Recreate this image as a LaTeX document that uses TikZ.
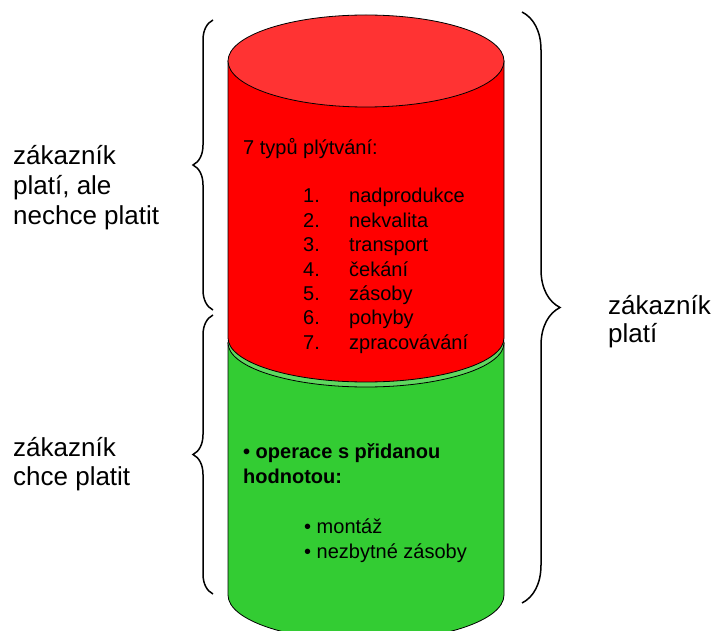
\documentclass[tikz,border=0pt]{standalone}
\usepackage{fontspec}
\setmainfont{Liberation Sans}
\usetikzlibrary{decorations.pathreplacing}

\definecolor{redtop}{HTML}{FF3333}
\definecolor{redbody}{HTML}{FF0000}
\definecolor{greentop}{HTML}{5FD75F}
\definecolor{greenbody}{HTML}{33CC33}

\begin{document}
\begin{tikzpicture}[x=1pt,y=1pt,
  outline/.style={draw=black,line width=0.8pt},
  bracebig/.style={draw=black,line width=1.5pt,decorate,decoration={brace,amplitude=#1}},
  label/.style={anchor=base west,inner sep=0pt,font=\fontsize{26}{30}\selectfont},
  item/.style={anchor=base west,inner sep=0pt,font=\fontsize{20}{24}\selectfont},
  itembold/.style={item,font=\fontsize{20}{24}\selectfont\bfseries}]
\useasboundingbox (0,0) rectangle (715,630);
\clip (0,0) rectangle (715,630);

% lower (green) cylinder
\fill[greenbody,outline] (228,287) -- (228,35)
  arc[start angle=180,end angle=360,x radius=138,y radius=46] -- (504,287) -- cycle;
\fill[greentop,outline] (366,287) ellipse[x radius=138,y radius=44];

% upper (red) cylinder
\fill[redbody,outline] (228,569) -- (228,292)
  arc[start angle=180,end angle=360,x radius=138,y radius=44] -- (504,569) -- cycle;
\fill[redtop,outline] (366,569) ellipse[x radius=138,y radius=46];

% braces
\coordinate (lb1s) at (213,320);
\coordinate (lb1e) at (213,610);
\coordinate (lb2s) at (213,36);
\coordinate (lb2e) at (213,315);
\coordinate (rbs) at (522,618);
\coordinate (rbe) at (522,27);
\draw[bracebig=20pt] (lb1s) -- (lb1e);
\draw[bracebig=20pt] (lb2s) -- (lb2e);
\draw[bracebig=38pt] (rbs) -- (rbe);

% side labels
\node[label] (l1a) at (13,465) {zákazník};
\node[label] (l1b) at (13,435) {platí, ale};
\node[label] (l1c) at (13,405) {nechce platit};
\node[label] (l2a) at (13,174) {zákazník};
\node[label] (l2b) at (13,145) {chce platit};
\node[label] (r1a) at (608,315) {zákazník};
\node[label] (r1b) at (608,287) {platí};

% waste types
\node[item] (wt) at (243,475) {7 typů plýtvání:};
\foreach \n/\t [count=\k from 0] in {1/nadprodukce,2/nekvalita,3/transport,4/čekání,5/zásoby,6/pohyby,7/zpracovávání}{
  \node[item] (wn\n) at (303,427-24.4*\k) {\n.};
  \node[item] (wi\n) at (349,427-24.4*\k) {\t};
}

% value-adding operations
\node[itembold] (va1) at (243,172) {• operace s přidanou};
\node[itembold] (va2) at (243,147) {hodnotou:};
\node[item] (vb1) at (304,97) {• montáž};
\node[item] (vb2) at (304,72) {• nezbytné zásoby};
\end{tikzpicture}
\end{document}
